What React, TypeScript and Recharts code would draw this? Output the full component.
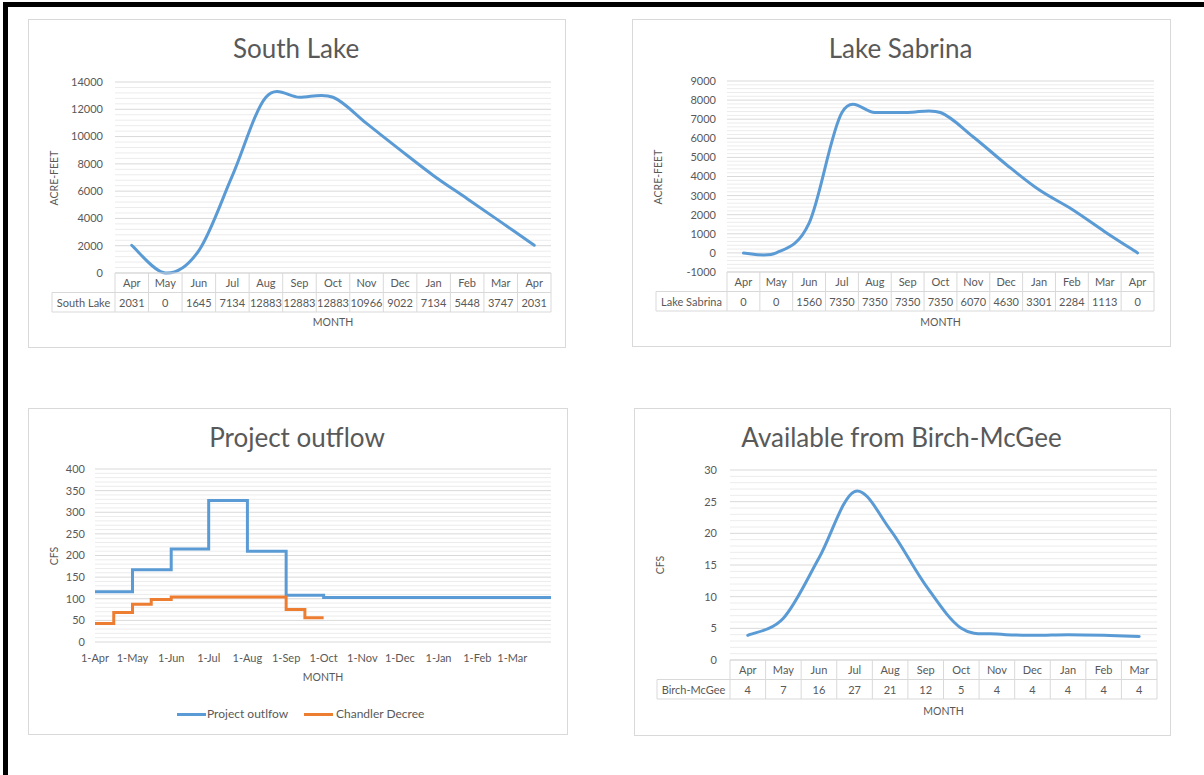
import React from 'react';
import { LineChart, Line, XAxis, YAxis, CartesianGrid, ReferenceLine } from 'recharts';

// ---------- DATA ----------
const lakeMonths = ['Apr', 'May', 'Jun', 'Jul', 'Aug', 'Sep', 'Oct', 'Nov', 'Dec', 'Jan', 'Feb', 'Mar', 'Apr'];
const southLakeValues = [2031, 0, 1645, 7134, 12883, 12883, 12883, 10966, 9022, 7134, 5448, 3747, 2031];
const lakeSabrinaValues = [0, 0, 1560, 7350, 7350, 7350, 7350, 6070, 4630, 3301, 2284, 1113, 0];
const birchMonths = ['Apr', 'May', 'Jun', 'Jul', 'Aug', 'Sep', 'Oct', 'Nov', 'Dec', 'Jan', 'Feb', 'Mar'];
const birchValues = [3.9, 6.6, 16.1, 26.6, 20.6, 11.8, 5.0, 4.1, 3.9, 4.0, 3.9, 3.7];

const southLakeTicks = [0, 2000, 4000, 6000, 8000, 10000, 12000, 14000];
const sabrinaTicks = [-1000, 0, 1000, 2000, 3000, 4000, 5000, 6000, 7000, 8000, 9000];
const outflowTicks = [0, 50, 100, 150, 200, 250, 300, 350, 400];
const birchTicks = [0, 5, 10, 15, 20, 25, 30];

const outflowDayTicks = [0, 30, 61, 91, 122, 153, 183, 214, 244, 275, 306, 334];
const outflowDayLabels = ['1-Apr', '1-May', '1-Jun', '1-Jul', '1-Aug', '1-Sep', '1-Oct', '1-Nov', '1-Dec', '1-Jan', '1-Feb', '1-Mar'];
const projectOutflowDays = [0, 30, 61, 91, 122, 153, 183, 365];
const projectOutflowValues = [116, 167, 215, 327, 210, 108, 103, 103];
const chandlerDays = [0, 15, 30, 45, 61, 153, 168, 183];
const chandlerValues = [43, 68, 87, 98, 104, 75, 56, 56];

// ---------- STYLE ----------
const FONT = 'Lato, "Open Sans", sans-serif';
const TEXT = '#595959';
const GRID = '#d9d9d9';
const MINOR = '#ececec';
const BLUE = '#5b9bd5';
const ORANGE = '#ed7d31';

// Excel-like smoothed line (Catmull-Rom style bezier)
const excelSmooth = (context: any) => {
  let pts: number[][] = [];
  return {
    areaStart() {},
    areaEnd() {},
    lineStart() { pts = []; },
    point(x: number, y: number) { pts.push([+x, +y]); },
    lineEnd() {
      const n = pts.length;
      if (!n) return;
      context.moveTo(pts[0][0], pts[0][1]);
      for (let i = 0; i < n - 1; i++) {
        const p0 = pts[Math.max(i - 1, 0)];
        const p1 = pts[i];
        const p2 = pts[i + 1];
        const p3 = pts[Math.min(i + 2, n - 1)];
        context.bezierCurveTo(
          p1[0] + (p2[0] - p0[0]) / 6, p1[1] + (p2[1] - p0[1]) / 6,
          p2[0] - (p3[0] - p1[0]) / 6, p2[1] - (p3[1] - p1[1]) / 6,
          p2[0], p2[1]
        );
      }
    },
  };
};

const minorValues = (ticks: number[], parts: number) => {
  const out: number[] = [];
  for (let i = 0; i < ticks.length - 1; i++) {
    const step = (ticks[i + 1] - ticks[i]) / parts;
    for (let k = 1; k < parts; k++) out.push(ticks[i] + step * k);
  }
  return out;
};

type Lay = { x: number; y: number; w: number; h: number; pl: number; pr: number; pt: number; pb: number };

const Txt = ({ x, y, size, rotate, children, color = TEXT }: any) => (
  <div
    style={{
      position: 'absolute',
      left: x,
      top: y,
      transform: `translate(-50%, -50%)${rotate ? ' rotate(-90deg)' : ''}`,
      fontFamily: FONT,
      fontSize: size,
      color,
      whiteSpace: 'nowrap',
      lineHeight: 1,
    }}
  >
    {children}
  </div>
);

const Panel = ({ lay, children }: any) => (
  <div style={{ position: 'absolute', left: lay.x, top: lay.y, width: lay.w, height: lay.h, background: '#fff' }}>
    <div style={{ position: 'absolute', left: 0, top: 0, width: lay.w, height: lay.h, border: '1px solid #d9d9d9', boxSizing: 'border-box' }} />
    {children}
  </div>
);

const tickStyle = { fill: TEXT, fontSize: 11, fontFamily: FONT };

function TableLineChart(props: any) {
  const { lay, title, yLabel, seriesName, months, values, ticks, tickGap, labelLeft, rowH, monthY } = props;
  const L: Lay = lay;
  const n = months.length;
  const plotW = L.w - L.pl - L.pr;
  const plotB = L.h - L.pb;
  const bw = plotW / n;
  const data = months.map((m: string, i: number) => ({ idx: i, month: m, value: values[i] }));
  const idxTicks = months.map((_: string, i: number) => i);
  const minor = minorValues(ticks, 5);
  const xAxisH = 40;

  const renderTick = (p: any) => {
    const i = p.payload.value;
    const cx = p.x;
    const x0 = cx - bw / 2;
    const x1 = cx + bw / 2;
    const y0 = plotB;
    const y1 = y0 + rowH;
    const y2 = y0 + 2 * rowH;
    const ts = { fill: TEXT, fontSize: 11, fontFamily: FONT };
    return (
      <g>
        <line x1={x0} y1={y0} x2={x1} y2={y0} stroke={GRID} />
        <line x1={x0} y1={y1} x2={x1} y2={y1} stroke={GRID} />
        <line x1={x0} y1={y2} x2={x1} y2={y2} stroke={GRID} />
        <line x1={x0} y1={y0} x2={x0} y2={y2} stroke={GRID} />
        {i === n - 1 && <line x1={x1} y1={y0} x2={x1} y2={y2} stroke={GRID} />}
        {i === 0 && (
          <g>
            <line x1={labelLeft} y1={y1} x2={x0} y2={y1} stroke={GRID} />
            <line x1={labelLeft} y1={y2} x2={x0} y2={y2} stroke={GRID} />
            <line x1={labelLeft} y1={y1} x2={labelLeft} y2={y2} stroke={GRID} />
            <text x={(labelLeft + x0) / 2} y={(y1 + y2) / 2} textAnchor="middle" dominantBaseline="central" {...ts}>
              {seriesName}
            </text>
          </g>
        )}
        <text x={cx} y={(y0 + y1) / 2} textAnchor="middle" dominantBaseline="central" {...ts}>
          {months[i]}
        </text>
        <text x={cx} y={(y1 + y2) / 2} textAnchor="middle" dominantBaseline="central" {...ts}>
          {Math.round(values[i])}
        </text>
      </g>
    );
  };

  return (
    <Panel lay={L}>
      <div style={{ position: 'absolute', left: 0, top: 0 }}>
        <LineChart
          width={L.w}
          height={L.h}
          data={data}
          margin={{ top: L.pt, right: L.pr, bottom: L.pb - xAxisH, left: L.pl - 60 }}
        >
          {minor.map((v) => (
            <ReferenceLine key={`m${v}`} y={v} stroke={MINOR} strokeWidth={1} ifOverflow="hidden" />
          ))}
          <CartesianGrid vertical={false} stroke={GRID} />
          <XAxis
            type="number"
            dataKey="idx"
            domain={[-0.5, n - 0.5]}
            ticks={idxTicks}
            interval={0}
            tickLine={false}
            axisLine={false}
            tickSize={0}
            tickMargin={0}
            height={xAxisH}
            tick={renderTick}
          />
          <YAxis
            type="number"
            domain={[ticks[0], ticks[ticks.length - 1]]}
            ticks={ticks}
            interval={0}
            width={60}
            tickLine={false}
            axisLine={false}
            tickSize={0}
            tickMargin={tickGap}
            tick={tickStyle}
          />
          <Line
            dataKey="value"
            type={excelSmooth as any}
            stroke={BLUE}
            strokeWidth={3}
            strokeLinecap="round"
            dot={false}
            activeDot={false}
            isAnimationActive={false}
          />
        </LineChart>
      </div>
      <Txt x={L.w / 2 - 1} y={29} size={26}>{title}</Txt>
      <Txt x={26} y={(L.pt + plotB) / 2} size={10.5} rotate>{yLabel}</Txt>
      <Txt x={(L.pl + L.w - L.pr) / 2} y={monthY} size={10.5}>MONTH</Txt>
    </Panel>
  );
}

function OutflowChart() {
  const L: Lay = { x: 28, y: 408, w: 540, h: 327, pl: 67, pr: 17, pt: 61, pb: 93 };
  const plotB = L.h - L.pb;
  const outflowData = projectOutflowDays.map((d, i) => ({ day: d, value: projectOutflowValues[i] }));
  const chandlerData = chandlerDays.map((d, i) => ({ day: d, value: chandlerValues[i] }));
  const minor = minorValues(outflowTicks, 5);
  const xAxisH = 30;
  return (
    <Panel lay={L}>
      <div style={{ position: 'absolute', left: 0, top: 0 }}>
        <LineChart
          width={L.w}
          height={L.h}
          margin={{ top: L.pt, right: L.pr, bottom: L.pb - xAxisH, left: L.pl - 50 }}
        >
          {minor.map((v) => (
            <ReferenceLine key={`m${v}`} y={v} stroke={MINOR} strokeWidth={1} ifOverflow="hidden" />
          ))}
          <CartesianGrid vertical={false} stroke={GRID} />
          <XAxis
            type="number"
            dataKey="day"
            domain={[0, 365]}
            ticks={outflowDayTicks}
            interval={0}
            tickFormatter={(v: number) => outflowDayLabels[outflowDayTicks.indexOf(v)]}
            tickLine={false}
            axisLine={false}
            tickSize={0}
            tickMargin={12}
            height={xAxisH}
            tick={tickStyle}
            allowDataOverflow
          />
          <YAxis
            type="number"
            domain={[0, 400]}
            ticks={outflowTicks}
            interval={0}
            width={50}
            tickLine={false}
            axisLine={false}
            tickSize={0}
            tickMargin={10}
            tick={tickStyle}
          />
          <Line
            data={outflowData}
            dataKey="value"
            name="Project outlfow"
            type="stepAfter"
            stroke={BLUE}
            strokeWidth={3}
            dot={false}
            activeDot={false}
            isAnimationActive={false}
          />
          <Line
            data={chandlerData}
            dataKey="value"
            name="Chandler Decree"
            type="stepAfter"
            stroke={ORANGE}
            strokeWidth={3}
            dot={false}
            activeDot={false}
            isAnimationActive={false}
          />
        </LineChart>
      </div>
      <Txt x={L.w / 2 - 1} y={29} size={26}>Project outflow</Txt>
      <Txt x={26} y={(L.pt + plotB) / 2} size={10.5} rotate>CFS</Txt>
      <Txt x={(L.pl + L.w - L.pr) / 2} y={269} size={10.5}>MONTH</Txt>
      <div style={{ position: 'absolute', left: 149, top: 304.5, width: 29, height: 3, background: BLUE }} />
      <div style={{ position: 'absolute', left: 179, top: 306, transform: 'translateY(-50%)', fontFamily: FONT, fontSize: 12, color: TEXT, lineHeight: 1, whiteSpace: 'nowrap' }}>
        Project outlfow
      </div>
      <div style={{ position: 'absolute', left: 276, top: 304.5, width: 29, height: 3, background: ORANGE }} />
      <div style={{ position: 'absolute', left: 308, top: 306, transform: 'translateY(-50%)', fontFamily: FONT, fontSize: 12, color: TEXT, lineHeight: 1, whiteSpace: 'nowrap' }}>
        Chandler Decree
      </div>
    </Panel>
  );
}

export default function App() {
  return (
    <div style={{ position: 'absolute', left: 0, top: 0, width: 1204, height: 775, background: '#fff', overflow: 'hidden' }}>
      <div style={{ position: 'absolute', left: 3, top: 2, width: 1201, height: 5, background: '#000' }} />
      <div style={{ position: 'absolute', left: 3, top: 2, width: 5, height: 773, background: '#000' }} />

      <TableLineChart
        lay={{ x: 28, y: 19, w: 538, h: 329, pl: 87, pr: 15, pt: 63, pb: 75 }}
        title="South Lake"
        yLabel="ACRE-FEET"
        seriesName="South Lake"
        months={lakeMonths}
        values={southLakeValues}
        ticks={southLakeTicks}
        tickGap={12}
        labelLeft={24}
        rowH={19.5}
        monthY={303}
      />
      <TableLineChart
        lay={{ x: 632, y: 19, w: 539, h: 328, pl: 95, pr: 17, pt: 62, pb: 75 }}
        title="Lake Sabrina"
        yLabel="ACRE-FEET"
        seriesName="Lake Sabrina"
        months={lakeMonths}
        values={lakeSabrinaValues}
        ticks={sabrinaTicks}
        tickGap={11}
        labelLeft={24}
        rowH={19.5}
        monthY={303}
      />
      <OutflowChart />
      <TableLineChart
        lay={{ x: 634, y: 408, w: 537, h: 328, pl: 96, pr: 14, pt: 62, pb: 76 }}
        title="Available from Birch-McGee"
        yLabel="CFS"
        seriesName="Birch-McGee"
        months={birchMonths}
        values={birchValues}
        ticks={birchTicks}
        tickGap={13}
        labelLeft={23}
        rowH={19.5}
        monthY={303}
      />
    </div>
  );
}
